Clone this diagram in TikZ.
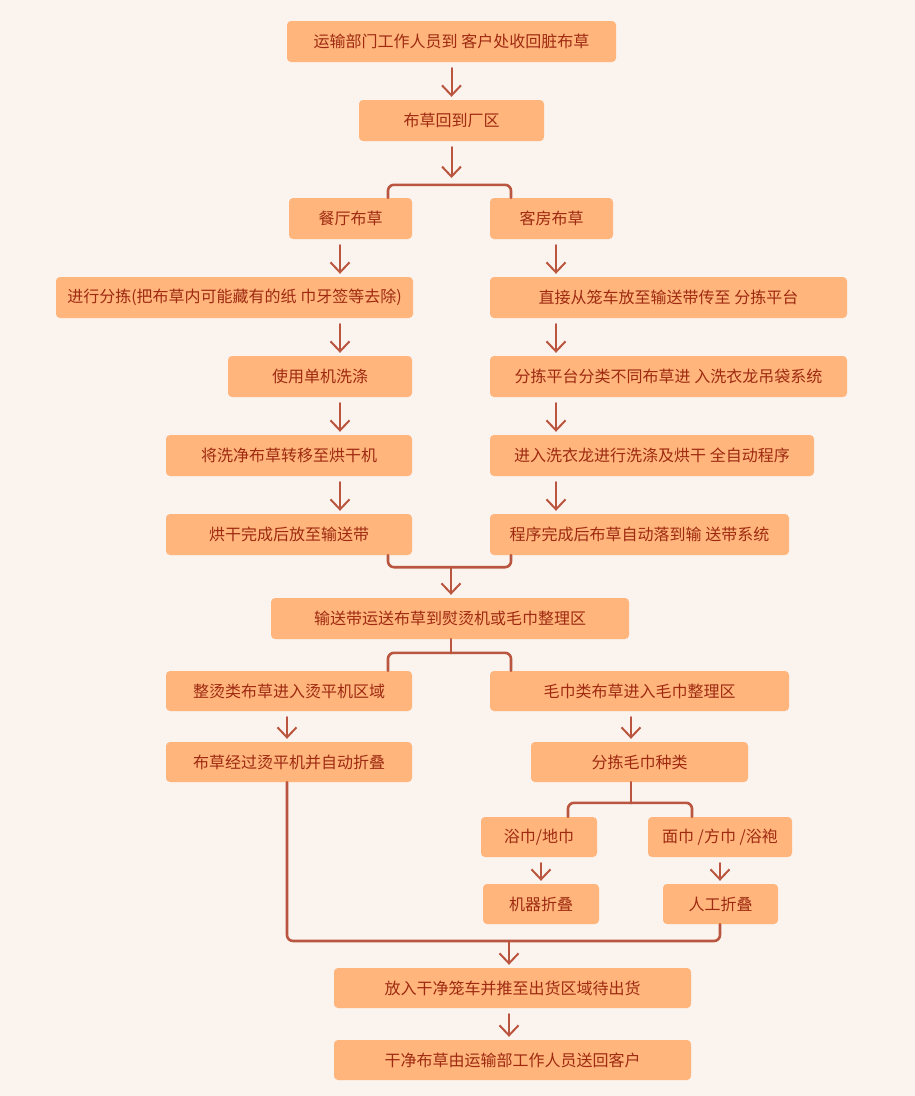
\documentclass[tikz,border=0pt]{standalone}
\usepackage{fontspec}
\usepackage{tikz}
\usetikzlibrary{arrows.meta}
\newfontfamily\cjk{Noto Sans CJK SC}
\definecolor{nenbg}{HTML}{FBF3EE}
\definecolor{hopcam}{HTML}{FFB57B}
\definecolor{chudo}{HTML}{9E2A12}
\definecolor{duongnoi}{HTML}{BA5640}

\begin{document}
\begin{tikzpicture}[x=1pt, y=-1pt, line join=round, line cap=round,
    hop/.style={draw=none, fill=hopcam, rounded corners=4pt, minimum height=41pt,
        inner sep=0pt, text=chudo, font=\cjk\fontsize{16}{19}\selectfont},
    noi/.style={draw=duongnoi, line width=2.6pt, rounded corners=6pt},
    mui/.style={draw=duongnoi, line width=2pt, -{Straight Barb[length=10pt, width=19pt, line width=2pt]},
        shorten <=6pt, shorten >=3pt}]
    % Nền
    \fill[nenbg] (0,0) rectangle (915,1096);
    \useasboundingbox (0,0) rectangle (915,1096);

    % Đầu quy trình
    \node[hop, minimum width=329pt] (b1) at (451.5,41.5) {运输部门工作人员到 客户处收回脏布草};
    \node[hop, minimum width=185pt] (b2) at (451.5,120.5) {布草回到厂区};
    \draw[mui] (b1.south) -- (b2.north);
    \coordinate (t1) at (451.5,178);
    \draw[mui, shorten >=0pt] (b2.south) -- (t1);

    % Hai nhánh: 餐厅 / 客房
    \node[hop, minimum width=123pt] (b3) at (350.5,218.5) {餐厅布草};
    \node[hop, minimum width=123pt] (b4) at (551.5,218.5) {客房布草};
    \draw[noi] (b3.north -| 388,0) -- ++(0,-13) -| (b4.north -| 511,0);

    % Nhánh trái
    \node[hop, minimum width=357pt] (b5) at (234.5,297.5) {进行分拣(把布草内可能藏有的纸 巾牙签等去除)};
    \node[hop, minimum width=184pt] (b7) at (320,376.5) {使用单机洗涤};
    \node[hop, minimum width=246pt] (b9) at (289,455.5) {将洗净布草转移至烘干机};
    \node[hop, minimum width=246pt] (b11) at (289,534.5) {烘干完成后放至输送带};
    \draw[mui] (b3.south -| 340,0) -- (b5.north -| 340,0);
    \draw[mui] (b5.south -| 340,0) -- (b7.north -| 340,0);
    \draw[mui] (b7.south -| 340,0) -- (b9.north -| 340,0);
    \draw[mui] (b9.south -| 340,0) -- (b11.north -| 340,0);

    % Nhánh phải
    \node[hop, minimum width=357pt] (b6) at (668.5,297.5) {直接从笼车放至输送带传至 分拣平台};
    \node[hop, minimum width=357pt] (b8) at (668.5,376.5) {分拣平台分类不同布草进 入洗衣龙吊袋系统};
    \node[hop, minimum width=324pt] (b10) at (652,455.5) {进入洗衣龙进行洗涤及烘干 全自动程序};
    \node[hop, minimum width=299pt] (b12) at (639.5,534.5) {程序完成后布草自动落到输 送带系统};
    \draw[mui] (b4.south -| 556,0) -- (b6.north -| 556,0);
    \draw[mui] (b6.south -| 556,0) -- (b8.north -| 556,0);
    \draw[mui] (b8.south -| 556,0) -- (b10.north -| 556,0);
    \draw[mui] (b10.south -| 556,0) -- (b12.north -| 556,0);

    % Gộp lại
    \draw[noi] (b11.south -| 388,0) -- ++(0,12) -| (b12.south -| 511,0);
    \coordinate (g1) at (451,567);
    \node[hop, minimum width=358pt] (b13) at (450,618.5) {输送带运送布草到熨烫机或毛巾整理区};
    \draw[mui, shorten <=0pt] (g1) -- (b13.north -| g1);

    % Tách: 整烫 / 毛巾
    \node[hop, minimum width=246pt, minimum height=40pt] (b14) at (289,691) {整烫类布草进入烫平机区域};
    \node[hop, minimum width=299pt, minimum height=40pt] (b15) at (639.5,691) {毛巾类布草进入毛巾整理区};
    \draw[noi] (b13.south -| 451,0) -- ++(0,14);
    \draw[noi] (b14.north -| 388,0) -- ++(0,-18) -| (b15.north -| 511,0);
    \node[hop, minimum width=246pt, minimum height=40pt] (b16) at (289,762) {布草经过烫平机并自动折叠};
    \node[hop, minimum width=217pt, minimum height=40pt] (b17) at (639.5,762) {分拣毛巾种类};
    \draw[mui] (b14.south -| 287,0) -- (b16.north -| 287,0);
    \draw[mui] (b15.south -| 631,0) -- (b17.north -| 631,0);

    % Loại khăn
    \node[hop, minimum width=116pt, minimum height=40pt] (b18) at (539,837) {浴巾/地巾};
    \node[hop, minimum width=144pt, minimum height=40pt] (b19) at (720,837) {面巾 /方巾 /浴袍};
    \draw[noi] (b17.south -| 631,0) -- ++(0,21);
    \draw[noi] (b18.north -| 568,0) -- ++(0,-14) -| (b19.north -| 692,0);
    \node[hop, minimum width=116pt, minimum height=40pt] (b20) at (541,904) {机器折叠};
    \node[hop, minimum width=115pt, minimum height=40pt] (b21) at (720.5,904) {人工折叠};
    \draw[mui] (b18.south -| 541,0) -- (b20.north -| 541,0);
    \draw[mui] (b19.south -| 720,0) -- (b21.north -| 720,0);

    % Cuối quy trình
    \draw[noi] (b16.south -| 287,0) -- (287,941) -| (b21.south -| 720,0);
    \coordinate (g2) at (509,941);
    \node[hop, minimum width=357pt, minimum height=40pt] (b22) at (512.5,988) {放入干净笼车并推至出货区域待出货};
    \node[hop, minimum width=357pt, minimum height=40pt] (b23) at (512.5,1060) {干净布草由运输部工作人员送回客户};
    \draw[mui, shorten <=0pt] (g2) -- (b22.north -| g2);
    \draw[mui] (b22.south -| 509,0) -- (b23.north -| 509,0);
\end{tikzpicture}
\end{document}
